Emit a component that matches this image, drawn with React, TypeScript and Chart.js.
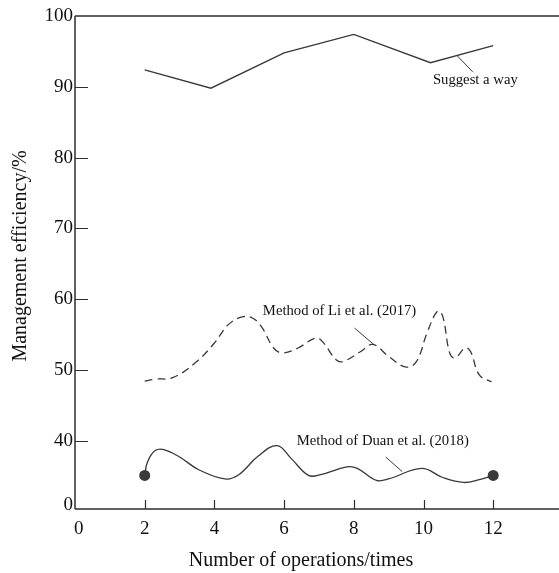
import React, { useEffect, useRef } from "react";
import { Chart, registerables } from "chart.js";

Chart.register(...registerables);

// ---- Data ----
const xTickValues = [0, 2, 4, 6, 8, 10, 12];
const yTickValues = [40, 50, 60, 70, 80, 90, 100];
const yBottomLabel = "0";
const xTitle = "Number of operations/times";
const yTitle = "Management efficiency/%";

const suggestX = [2, 3.9, 6, 8, 10.2, 12];
const suggestY = [92.4, 89.8, 94.8, 97.4, 93.4, 95.8];

const liX = [2, 2.3, 2.8, 3.45, 4.0, 4.4, 4.8, 5.1, 5.35, 5.7, 5.95, 6.4, 6.9, 7.1, 7.5, 7.7, 8.2, 8.55, 9.0, 9.5, 9.8, 10.1, 10.4, 10.55, 10.75, 10.9, 11.2, 11.35, 11.6, 11.95];
const liY = [48.4, 48.7, 48.9, 51.0, 53.8, 56.4, 57.5, 57.3, 56.1, 53.1, 52.4, 53.1, 54.5, 54.0, 51.4, 51.2, 52.6, 53.6, 51.9, 50.4, 51.2, 55.2, 58.3, 57.6, 52.4, 51.7, 53.1, 52.6, 49.3, 48.3];

const duanX = [2, 2.08, 2.3, 2.55, 3.0, 3.55, 4.3, 4.7, 5.25, 5.8, 6.2, 6.7, 7.05, 7.8, 8.1, 8.65, 9.0, 9.95, 10.55, 11.15, 11.6, 12];
const duanY = [35.1, 37.0, 38.6, 38.75, 37.7, 35.9, 34.6, 35.2, 37.8, 39.3, 37.5, 35.1, 35.2, 36.3, 36.1, 34.4, 34.6, 36.1, 34.8, 34.1, 34.5, 35.1];

const seriesNames = ["Suggest a way", "Method of Li et al. (2017)", "Method of Duan et al. (2018)"];

// annotation placement in data coordinates
const annotations = [
  { text: seriesNames[0], tx: 10.27, ty: 90.93, x1: 10.95, y1: 94.47, x2: 11.41, y2: 92.12 },
  { text: seriesNames[1], tx: 5.39, ty: 58.26, x1: 8.02, y1: 55.91, x2: 8.56, y2: 53.65 },
  { text: seriesNames[2], tx: 6.36, ty: 39.87, x1: 8.92, y1: 37.67, x2: 9.39, y2: 35.63 },
];

const FONT = '"Liberation Serif", "DejaVu Serif", serif';
const INK = "#111";
const LINE = "#383838";

const pts = (xs: number[], ys: number[]) => xs.map((x, i) => ({ x, y: ys[i] }));

const decorPlugin = {
  id: "decor",
  afterDraw(chart: any) {
    const { ctx, chartArea, scales } = chart;
    const xs = scales.x;
    const ys = scales.y;
    const { left, top, bottom } = chartArea;
    const right = chart.width;
    ctx.save();
    ctx.strokeStyle = "#2e2e2e";
    ctx.lineWidth = 1.5;
    ctx.beginPath();
    ctx.moveTo(left, top);
    ctx.lineTo(left, bottom);
    ctx.moveTo(left, top);
    ctx.lineTo(right, top);
    ctx.moveTo(left, bottom);
    ctx.lineTo(right, bottom);
    ctx.stroke();

    ctx.lineWidth = 1.2;
    ctx.beginPath();
    yTickValues.forEach((v) => {
      if (v >= 100) return;
      const py = Math.round(ys.getPixelForValue(v)) + 0.5;
      ctx.moveTo(left, py);
      ctx.lineTo(left + 13, py);
    });
    xTickValues.forEach((v) => {
      if (v === 0) return;
      const px = Math.round(xs.getPixelForValue(v)) + 0.5;
      ctx.moveTo(px, bottom);
      ctx.lineTo(px, bottom - 9);
    });
    ctx.stroke();

    // annotations
    ctx.fillStyle = INK;
    ctx.font = `14.7px ${FONT}`;
    ctx.textAlign = "left";
    ctx.textBaseline = "middle";
    ctx.strokeStyle = LINE;
    ctx.lineWidth = 1;
    annotations.forEach((a) => {
      ctx.fillText(a.text, xs.getPixelForValue(a.tx), ys.getPixelForValue(a.ty));
      ctx.beginPath();
      ctx.moveTo(xs.getPixelForValue(a.x1), ys.getPixelForValue(a.y1));
      ctx.lineTo(xs.getPixelForValue(a.x2), ys.getPixelForValue(a.y2));
      ctx.stroke();
    });

    // axis titles
    ctx.font = `20px ${FONT}`;
    ctx.textAlign = "center";
    ctx.textBaseline = "middle";
    ctx.fillText(xTitle, 301, 561);
    ctx.save();
    ctx.translate(21, 256);
    ctx.rotate(-Math.PI / 2);
    ctx.fillText(yTitle, 0, 0);
    ctx.restore();
    ctx.restore();
  },
};

export default function App() {
  const ref = useRef<HTMLCanvasElement | null>(null);
  useEffect(() => {
    document.body.style.margin = "0";
    const canvas = ref.current;
    if (!canvas) return;
    const chart = new Chart(canvas, {
      type: "line",
      data: {
        datasets: [
          {
            label: seriesNames[0],
            data: pts(suggestX, suggestY),
            borderColor: LINE,
            borderWidth: 1.3,
            pointRadius: 0,
            tension: 0,
          },
          {
            label: seriesNames[1],
            data: pts(liX, liY),
            borderColor: LINE,
            borderWidth: 1.3,
            borderDash: [8, 5],
            pointRadius: 0,
            tension: 0.4,
          },
          {
            label: seriesNames[2],
            data: pts(duanX, duanY),
            borderColor: LINE,
            borderWidth: 1.3,
            tension: 0.4,
            pointRadius: (c: any) => (c.dataIndex === 0 || c.dataIndex === duanX.length - 1 ? 5.5 : 0),
            pointBackgroundColor: "#3a3a3a",
            pointBorderWidth: 0,
          },
        ],
      },
      options: {
        animation: false,
        responsive: false,
        devicePixelRatio: 1,
        layout: { padding: { top: 16, right: 0, left: 0, bottom: 0 } },
        plugins: { legend: { display: false }, tooltip: { enabled: false } },
        scales: {
          x: {
            type: "linear",
            min: 0,
            max: 13.73,
            grid: { display: false, drawTicks: false },
            border: { display: false },
            afterBuildTicks: (s: any) => {
              s.ticks = xTickValues.map((v) => ({ value: v === 0 ? 0.11 : v }));
            },
            afterFit: (s: any) => {
              s.height = 64;
            },
            ticks: {
              padding: 9,
              maxRotation: 0,
              autoSkip: false,
              color: INK,
              font: { family: FONT, size: 19 },
              callback: (v: any) => String(Math.round(Number(v))),
            },
          },
          y: {
            type: "linear",
            min: 30.35,
            max: 100,
            grid: { display: false, drawTicks: false },
            border: { display: false },
            afterBuildTicks: (s: any) => {
              s.ticks = [{ value: 30.95 }, ...yTickValues.map((v) => ({ value: v }))];
            },
            afterFit: (s: any) => {
              s.width = 75;
            },
            ticks: {
              padding: 2,
              autoSkip: false,
              color: INK,
              font: { family: FONT, size: 19 },
              callback: (v: any) => (Number(v) < 35 ? yBottomLabel : String(Math.round(Number(v)))),
            },
          },
        },
      },
      plugins: [decorPlugin],
    } as any);
    return () => chart.destroy();
  }, []);
  return <canvas ref={ref} width={559} height={573} style={{ display: "block" }} />;
}
